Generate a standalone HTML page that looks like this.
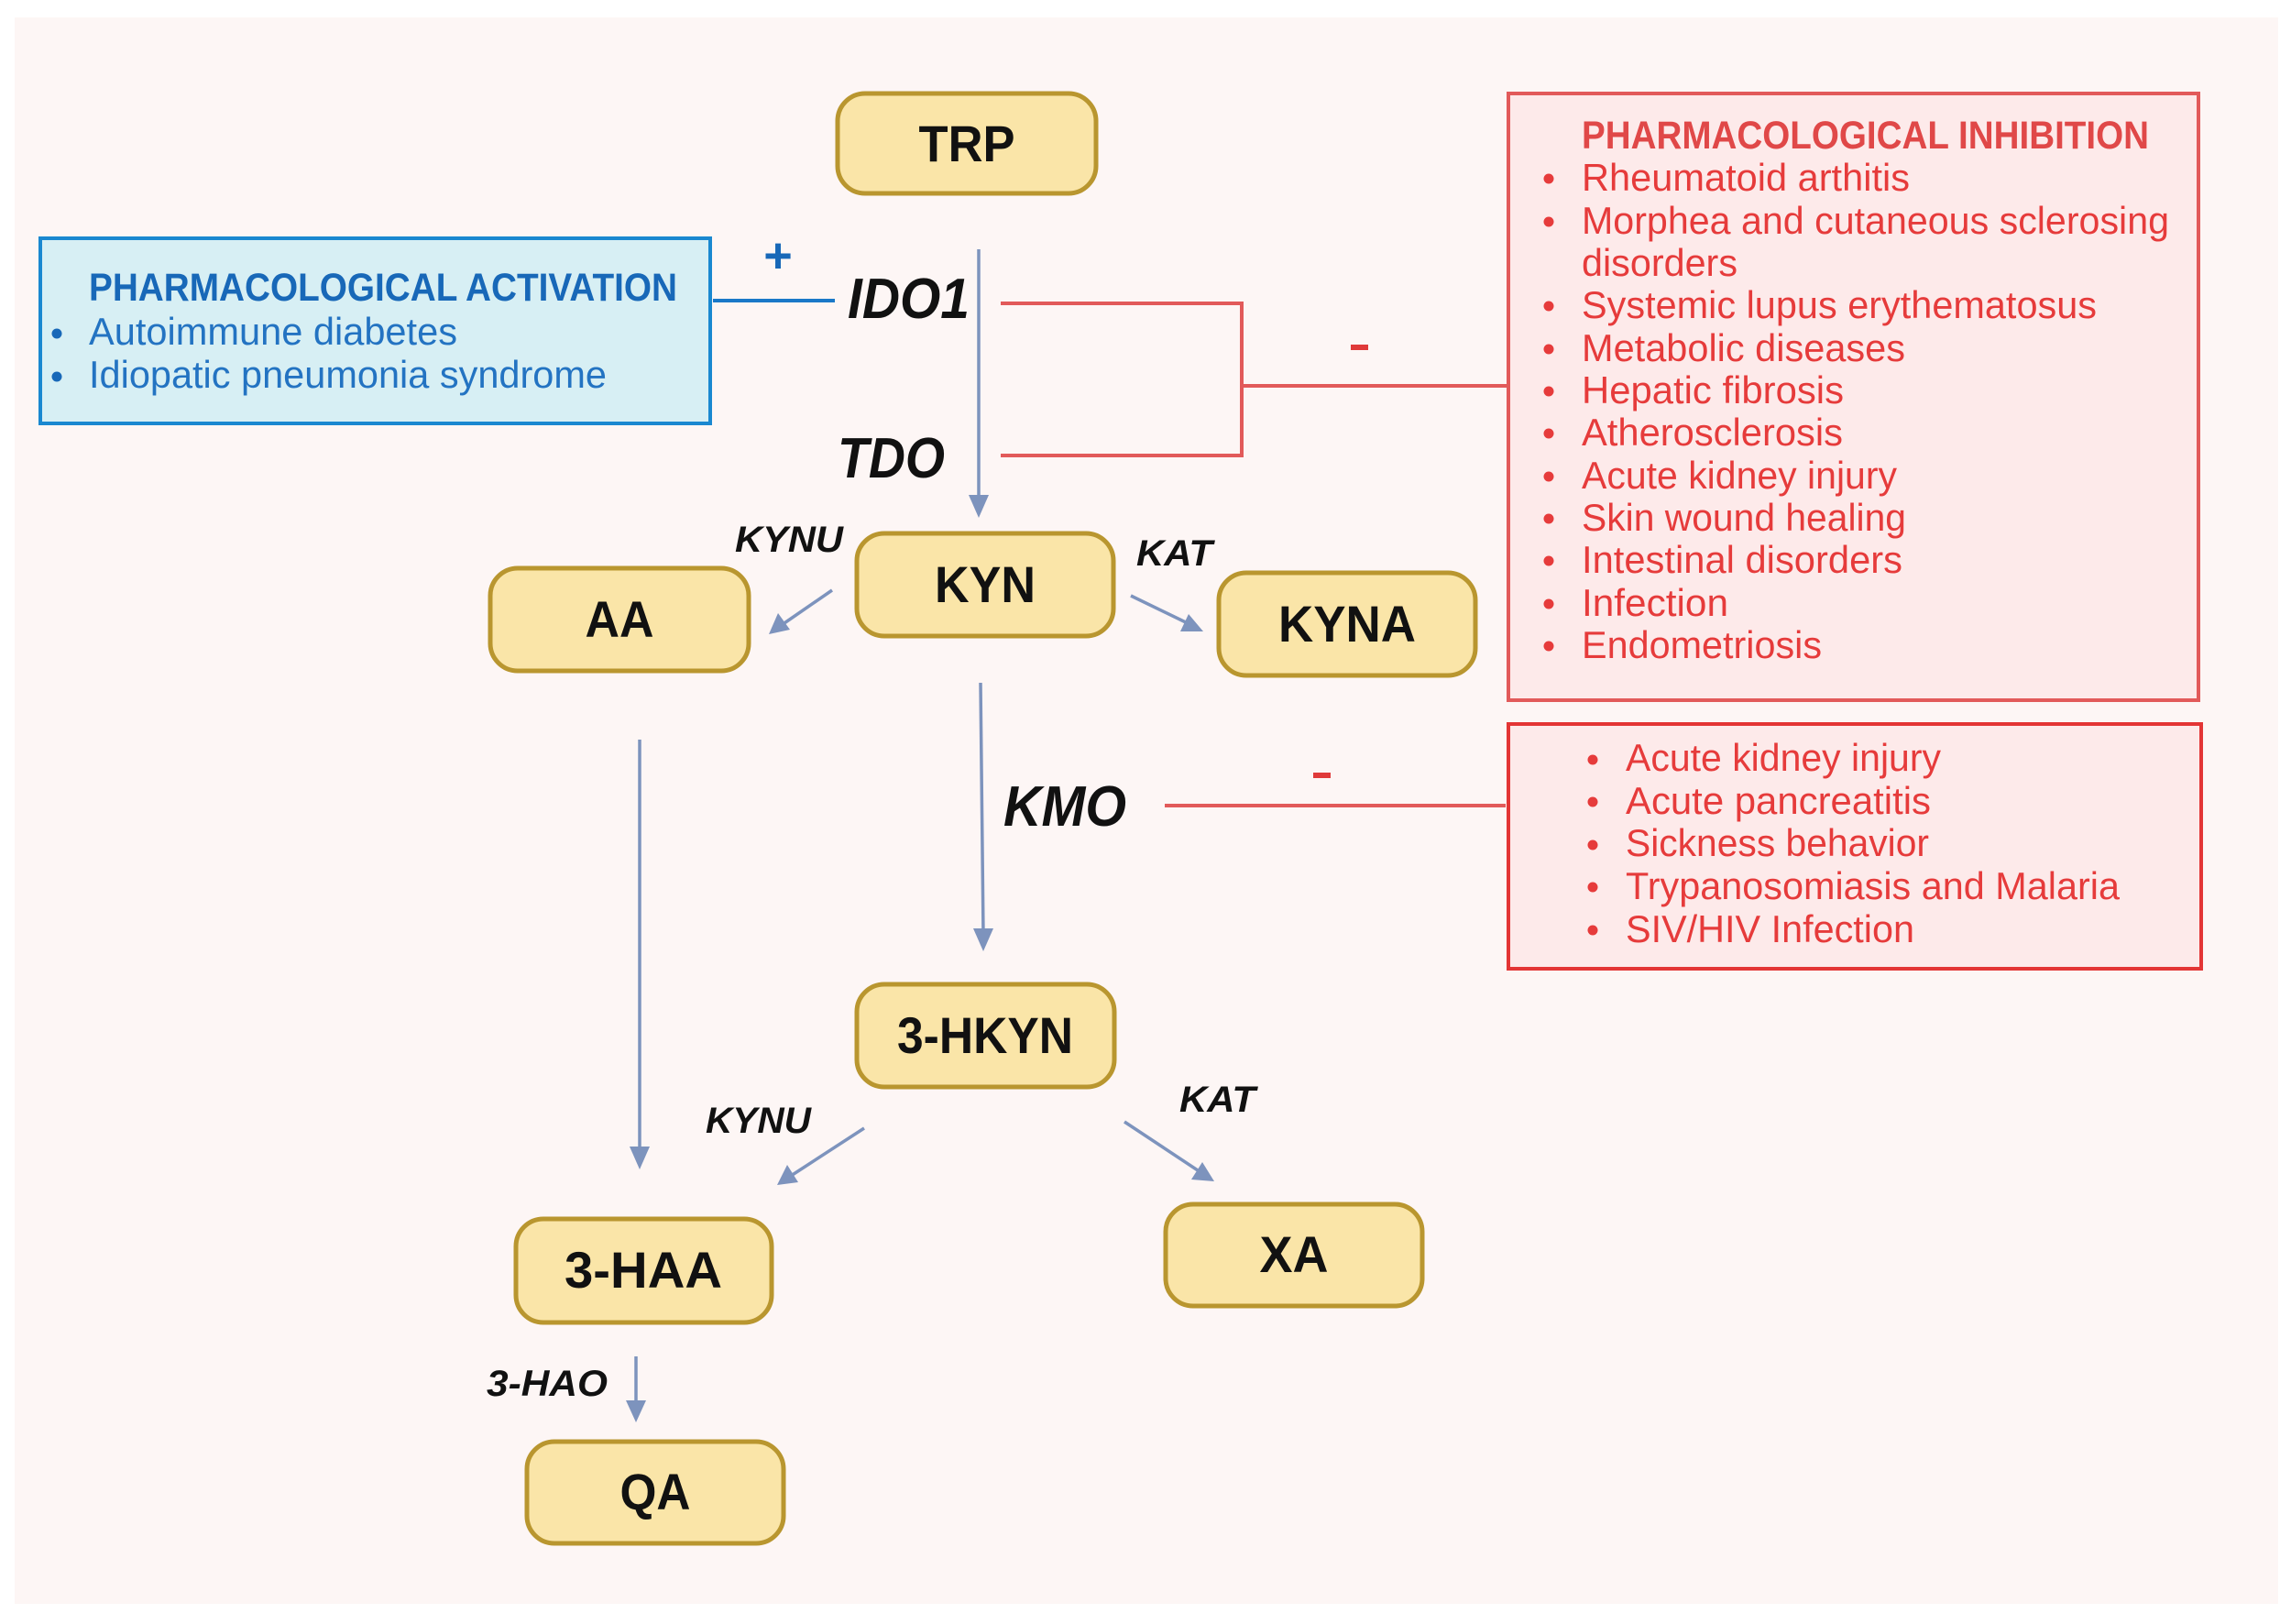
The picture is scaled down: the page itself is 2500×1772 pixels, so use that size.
<!DOCTYPE html>
<html><head><meta charset="utf-8"><style>
html,body{margin:0;padding:0;background:#fff;}
svg{display:block;}
text{font-family:"Liberation Sans",Arial,sans-serif;}
</style></head><body>
<svg width="2500" height="1772" viewBox="0 0 2500 1772" xmlns="http://www.w3.org/2000/svg">
<rect x="0" y="0" width="2500" height="1772" fill="#ffffff"/>
<rect x="16" y="19" width="2470" height="1731" fill="#fdf6f5"/>

<!-- Blue activation box -->
<rect x="44" y="260" width="731" height="202" fill="#d7eff4" stroke="#1a88d0" stroke-width="4"/>
<text x="97" y="328" font-size="43" font-weight="bold" fill="#1868b8" textLength="642" lengthAdjust="spacingAndGlyphs">PHARMACOLOGICAL ACTIVATION</text>
<circle cx="62" cy="364" r="5.5" fill="#1868b8"/>
<text x="97" y="376" font-size="42" fill="#2373c2" textLength="402" lengthAdjust="spacingAndGlyphs">Autoimmune diabetes</text>
<circle cx="62" cy="411" r="5.5" fill="#1868b8"/>
<text x="97" y="423" font-size="42" fill="#2373c2" textLength="565" lengthAdjust="spacingAndGlyphs">Idiopatic pneumonia syndrome</text>
<line x1="778" y1="328" x2="911" y2="328" stroke="#1a78c8" stroke-width="4"/>
<text x="849" y="297" font-size="54" font-weight="bold" fill="#1868b8" text-anchor="middle">+</text>

<!-- Red inhibition box 1 -->
<rect x="1646" y="102" width="753" height="662" fill="#fdeaea" stroke="#e25a5a" stroke-width="4"/>
<text x="1726" y="162" font-size="43" font-weight="bold" fill="#e04848" textLength="619" lengthAdjust="spacingAndGlyphs">PHARMACOLOGICAL INHIBITION</text>
<g fill="#e63b3b" font-size="42">
<text x="1726" y="208" textLength="358" lengthAdjust="spacingAndGlyphs">Rheumatoid arthitis</text>
<text x="1726" y="255" textLength="641" lengthAdjust="spacingAndGlyphs">Morphea and cutaneous sclerosing</text>
<text x="1726" y="301" textLength="170" lengthAdjust="spacingAndGlyphs">disorders</text>
<text x="1726" y="347" textLength="562" lengthAdjust="spacingAndGlyphs">Systemic lupus erythematosus</text>
<text x="1726" y="394" textLength="353" lengthAdjust="spacingAndGlyphs">Metabolic diseases</text>
<text x="1726" y="440" textLength="286" lengthAdjust="spacingAndGlyphs">Hepatic fibrosis</text>
<text x="1726" y="486" textLength="285" lengthAdjust="spacingAndGlyphs">Atherosclerosis</text>
<text x="1726" y="533" textLength="344" lengthAdjust="spacingAndGlyphs">Acute kidney injury</text>
<text x="1726" y="579" textLength="354" lengthAdjust="spacingAndGlyphs">Skin wound healing</text>
<text x="1726" y="625" textLength="350" lengthAdjust="spacingAndGlyphs">Intestinal disorders</text>
<text x="1726" y="672" textLength="160" lengthAdjust="spacingAndGlyphs">Infection</text>
<text x="1726" y="718" textLength="262" lengthAdjust="spacingAndGlyphs">Endometriosis</text>
</g>
<g fill="#e63b3b">
<circle cx="1690" cy="195" r="5.5"/><circle cx="1690" cy="242" r="5.5"/>
<circle cx="1690" cy="334" r="5.5"/><circle cx="1690" cy="381" r="5.5"/>
<circle cx="1690" cy="427" r="5.5"/><circle cx="1690" cy="473" r="5.5"/>
<circle cx="1690" cy="520" r="5.5"/><circle cx="1690" cy="566" r="5.5"/>
<circle cx="1690" cy="612" r="5.5"/><circle cx="1690" cy="659" r="5.5"/>
<circle cx="1690" cy="705" r="5.5"/>
</g>

<!-- Red box 2 -->
<rect x="1646" y="790" width="756" height="267" fill="#fdeaea" stroke="#e33535" stroke-width="4"/>
<g fill="#e63b3b" font-size="42">
<text x="1774" y="841" textLength="344" lengthAdjust="spacingAndGlyphs">Acute kidney injury</text>
<text x="1774" y="888" textLength="333" lengthAdjust="spacingAndGlyphs">Acute pancreatitis</text>
<text x="1774" y="934" textLength="331" lengthAdjust="spacingAndGlyphs">Sickness behavior</text>
<text x="1774" y="981" textLength="539" lengthAdjust="spacingAndGlyphs">Trypanosomiasis and Malaria</text>
<text x="1774" y="1028" textLength="315" lengthAdjust="spacingAndGlyphs">SIV/HIV Infection</text>
<circle cx="1738" cy="829" r="5.5"/><circle cx="1738" cy="875" r="5.5"/>
<circle cx="1738" cy="922" r="5.5"/><circle cx="1738" cy="968" r="5.5"/>
<circle cx="1738" cy="1015" r="5.5"/>
</g>

<!-- Red connectors -->
<g stroke="#e25a5a" stroke-width="4" fill="none">
<polyline points="1092,331 1355,331 1355,497 1092,497"/>
<line x1="1355" y1="421" x2="1646" y2="421"/>
<line x1="1271" y1="879" x2="1643" y2="879"/>
</g>
<rect x="1474" y="376" width="19" height="6" fill="#e03a3a"/>
<rect x="1433" y="843" width="19" height="6" fill="#e03a3a"/>

<!-- Enzyme labels -->
<g font-weight="bold" font-style="italic" fill="#111">
<text x="925" y="347" font-size="62" textLength="133" lengthAdjust="spacingAndGlyphs">IDO1</text>
<text x="914" y="521" font-size="62" textLength="117" lengthAdjust="spacingAndGlyphs">TDO</text>
<text x="1095" y="901" font-size="62" textLength="134" lengthAdjust="spacingAndGlyphs">KMO</text>
<text x="802" y="602" font-size="40" textLength="118" lengthAdjust="spacingAndGlyphs">KYNU</text>
<text x="1240" y="617" font-size="40" textLength="83" lengthAdjust="spacingAndGlyphs">KAT</text>
<text x="770" y="1236" font-size="40" textLength="115" lengthAdjust="spacingAndGlyphs">KYNU</text>
<text x="1287" y="1213" font-size="40" textLength="83" lengthAdjust="spacingAndGlyphs">KAT</text>
<text x="531" y="1523" font-size="40" textLength="132" lengthAdjust="spacingAndGlyphs">3-HAO</text>
</g>

<!-- Arrows -->
<g stroke="#7d93bd" stroke-width="3.5" fill="none">
<line x1="1068" y1="272" x2="1068" y2="548"/>
<line x1="908" y1="644" x2="850" y2="684"/>
<line x1="1234" y1="650" x2="1298" y2="681"/>
<line x1="1070" y1="745" x2="1073" y2="1020"/>
<line x1="698" y1="807" x2="698" y2="1258"/>
<line x1="943" y1="1231" x2="863" y2="1283"/>
<line x1="1227" y1="1224" x2="1310" y2="1279"/>
<line x1="694" y1="1480" x2="694" y2="1536"/>
</g>
<g fill="#7d93bd">
<polygon points="1068,565 1057,540 1079,540"/>
<polygon points="839,692 849,669 862,687"/>
<polygon points="1313,689 1288,689 1297,670"/>
<polygon points="1073,1038 1062,1013 1084,1013"/>
<polygon points="698,1276 687,1251 709,1251"/>
<polygon points="848,1293 859,1271 871,1290"/>
<polygon points="1325,1289 1300,1287 1312,1268"/>
<polygon points="694,1552 683,1528 705,1528"/>
</g>

<!-- Metabolite boxes -->
<g fill="#fae5a8" stroke="#b9962f" stroke-width="5">
<rect x="914" y="102" width="282" height="109" rx="30"/>
<rect x="935" y="582" width="280" height="112" rx="30"/>
<rect x="1330" y="625" width="280" height="112" rx="30"/>
<rect x="535" y="620" width="282" height="112" rx="30"/>
<rect x="935" y="1074" width="281" height="112" rx="30"/>
<rect x="563" y="1330" width="279" height="113" rx="30"/>
<rect x="1272" y="1314" width="280" height="111" rx="30"/>
<rect x="575" y="1573" width="280" height="111" rx="30"/>
</g>
<g font-weight="bold" font-size="56" fill="#111" text-anchor="middle">
<text x="1055" y="176" textLength="105" lengthAdjust="spacingAndGlyphs">TRP</text>
<text x="1075" y="657" textLength="110" lengthAdjust="spacingAndGlyphs">KYN</text>
<text x="1470" y="700" textLength="150" lengthAdjust="spacingAndGlyphs">KYNA</text>
<text x="676" y="695" textLength="75" lengthAdjust="spacingAndGlyphs">AA</text>
<text x="1075" y="1149" textLength="192" lengthAdjust="spacingAndGlyphs">3-HKYN</text>
<text x="702" y="1405" textLength="172" lengthAdjust="spacingAndGlyphs">3-HAA</text>
<text x="1412" y="1388" textLength="75" lengthAdjust="spacingAndGlyphs">XA</text>
<text x="715" y="1647" textLength="77" lengthAdjust="spacingAndGlyphs">QA</text>
</g>
</svg>
</body></html>
